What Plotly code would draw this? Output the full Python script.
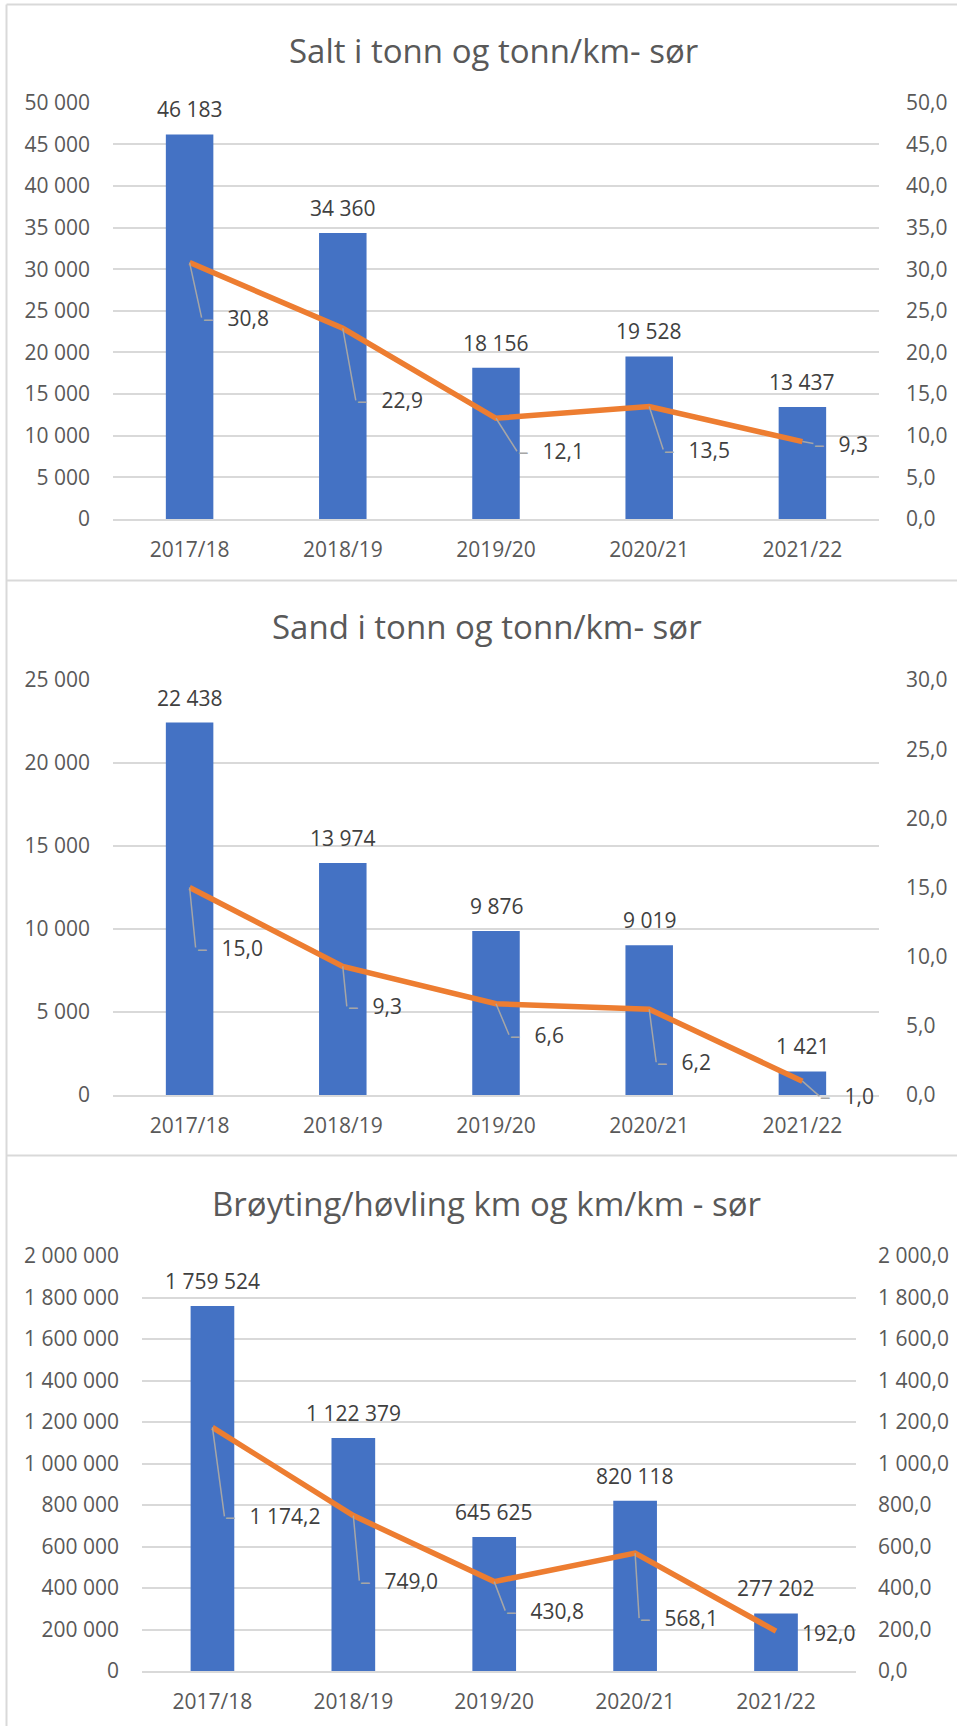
import plotly.graph_objects as go

W, H = 957, 1726

# ---------------- data ----------------
seasons = ["2017/18", "2018/19", "2019/20", "2020/21", "2021/22"]

salt_tonn = [46183, 34360, 18156, 19528, 13437]
salt_per_km = [30.8, 22.9, 12.1, 13.5, 9.3]

sand_tonn = [22438, 13974, 9876, 9019, 1421]
sand_per_km = [15.0, 9.3, 6.6, 6.2, 1.0]

brøyting_km = [1759524, 1122379, 645625, 820118, 277202]
brøyting_per_km = [1174.2, 749.0, 430.8, 568.1, 192.0]

titles = ["Salt i tonn og tonn/km- sør",
          "Sand i tonn og tonn/km- sør",
          "Brøyting/høvling km og km/km - sør"]

# ---------------- style / layout config ----------------
BLUE = "#4472C4"
ORANGE = "#ED7D31"
GRID = "#D9D9D9"
TXT = "#595959"
LBL = "#404040"
LEAD = "#A6A6A6"
FONT = "Open Sans"

def px(x):
    return x / W

def py(y):
    return 1 - y / H

# label offsets (pixels): text left edge dx, text middle dy, leader shown
panels = [
    dict(bars=salt_tonn, line=salt_per_km, title=titles[0],
         xdom=(113, 879), ydom=(102.7, 519), lrange=50000, ldtick=5000,
         rrange=50, rdtick=5, title_xy=(493, 50),
         offs=[(34, 55, 1), (35, 72, 1), (43, 33, 1), (36, 43, 1), (33, 2, 1)]),
    dict(bars=sand_tonn, line=sand_per_km, title=titles[1],
         xdom=(113, 879), ydom=(680, 1095), lrange=25000, ldtick=5000,
         rrange=30, rdtick=5, title_xy=(487, 626),
         offs=[(28, 60, 1), (26, 40, 1), (35, 31, 1), (29, 53, 1), (39, 15, 1)]),
    dict(bars=brøyting_km, line=brøyting_per_km, title=titles[2],
         xdom=(142, 856), ydom=(1256, 1671), lrange=2000000, ldtick=200000,
         rrange=2000, rdtick=200, title_xy=(487, 1203),
         offs=[(34, 89, 1), (28, 65, 1), (33, 29, 1), (26, 65, 1), (25, 2, 0)]),
]

def fmt_int(v):
    return f"{v:,}".replace(",", " ")

def fmt_dec(v):
    return f"{v:,.1f}".replace(",", "X").replace(".", ",").replace("X", " ")

fig = go.Figure()
annotations = []
layout = {}

for i, p in enumerate(panels):
    n = i + 1
    xa = "x" if n == 1 else f"x{n}"
    ya_l = f"y{2*n-1}" if n > 1 else "y"
    ya_r = f"y{2*n}"
    xkey = "xaxis" if n == 1 else f"xaxis{n}"
    ylkey = "yaxis" if n == 1 else f"yaxis{2*n-1}"
    yrkey = f"yaxis{2*n}"

    fig.add_trace(go.Bar(x=seasons, y=p["bars"], xaxis=xa, yaxis=ya_l,
                         marker=dict(color=BLUE, line=dict(width=0)),
                         width=0.31, showlegend=False, hoverinfo="skip"))
    fig.add_trace(go.Scatter(x=seasons, y=p["line"], xaxis=xa, yaxis=ya_r,
                             mode="lines", line=dict(color=ORANGE, width=5.5),
                             showlegend=False, hoverinfo="skip"))

    layout[xkey] = dict(domain=[px(p["xdom"][0]), px(p["xdom"][1])],
                        anchor=ya_l, type="category", automargin=False,
                        showline=True, linecolor=GRID, linewidth=2,
                        showgrid=False, ticks="", ticklabelstandoff=11,
                        tickfont=dict(family=FONT, size=21, color=TXT),
                        fixedrange=True)
    layout[ylkey] = dict(domain=[py(p["ydom"][1]), py(p["ydom"][0])],
                         anchor=xa, range=[0, p["lrange"]], dtick=p["ldtick"],
                         tick0=0, tickformat=",d", showgrid=True, automargin=False,
                         gridcolor=GRID, gridwidth=2, zeroline=False,
                         showline=False, ticks="", ticklabelstandoff=22,
                         tickfont=dict(family=FONT, size=21, color=TXT))
    layout[yrkey] = dict(overlaying=ya_l, side="right", anchor=xa,
                         range=[0, p["rrange"]], dtick=p["rdtick"], tick0=0,
                         tickformat=",.1f", showgrid=False, zeroline=False,
                         showline=False, ticks="", automargin=False,
                         ticklabelstandoff=26 if n < 3 else 21,
                         tickfont=dict(family=FONT, size=21, color=TXT))

    # title
    annotations.append(dict(text=p["title"], xref="paper", yref="paper",
                            x=px(p["title_xy"][0]), y=py(p["title_xy"][1]),
                            xanchor="center", yanchor="middle", showarrow=False,
                            font=dict(family=FONT, size=33, color=TXT)))
    # bar labels
    for s, v in zip(seasons, p["bars"]):
        annotations.append(dict(text=fmt_int(v), x=s, y=v, xref=xa, yref=ya_l,
                                xanchor="center", yanchor="middle", yshift=25,
                                showarrow=False,
                                font=dict(family=FONT, size=21, color=LBL)))
    # line labels with leader lines
    for s, v, (dx, dy, lead) in zip(seasons, p["line"], p["offs"]):
        if lead:
            annotations.append(dict(
                text=f"<span style='color:{LEAD}'>–</span>\u2002\u2009" + fmt_dec(v),
                x=s, y=v, xref=xa, yref=ya_r,
                xanchor="left", yanchor="middle",
                showarrow=True, arrowhead=0, arrowwidth=1.5,
                arrowcolor=LEAD, ax=dx - 22, ay=dy, borderpad=0,
                standoff=0, startstandoff=0,
                font=dict(family=FONT, size=21, color=LBL)))
        else:
            annotations.append(dict(
                text=fmt_dec(v), x=s, y=v, xref=xa, yref=ya_r,
                xanchor="left", yanchor="middle", showarrow=False,
                xshift=dx, yshift=-dy, borderpad=0,
                font=dict(family=FONT, size=21, color=LBL)))

shapes = [
    dict(type="line", xref="paper", yref="paper", x0=px(6.5), x1=px(6.5),
         y0=py(4.5), y1=0, line=dict(color=GRID, width=2)),
]
for yy in (4.5, 580.5, 1155.5):
    shapes.append(dict(type="line", xref="paper", yref="paper", x0=px(6.5), x1=1,
                       y0=py(yy), y1=py(yy), line=dict(color=GRID, width=2)))

fig.update_layout(
    width=W, height=H,
    margin=dict(l=0, r=0, t=0, b=0, pad=0, autoexpand=False),
    paper_bgcolor="white", plot_bgcolor="white",
    separators=", ", showlegend=False,
    font=dict(family=FONT, color=TXT),
    annotations=annotations, shapes=shapes,
    **layout,
)

post = (
    "var d=document.getElementById('{plot_id}');"
    "d.style.position='fixed';d.style.top='0px';d.style.left='0px';"
    "var b=document.body, h=document.documentElement;"
    "b.style.margin='0';b.style.padding='0';b.style.overflow='hidden';"
    "b.style.height='1726px';h.style.overflow='hidden';h.style.height='1726px';"
)

fig.write_html("out.html", config={"displayModeBar": False}, post_script=post)
